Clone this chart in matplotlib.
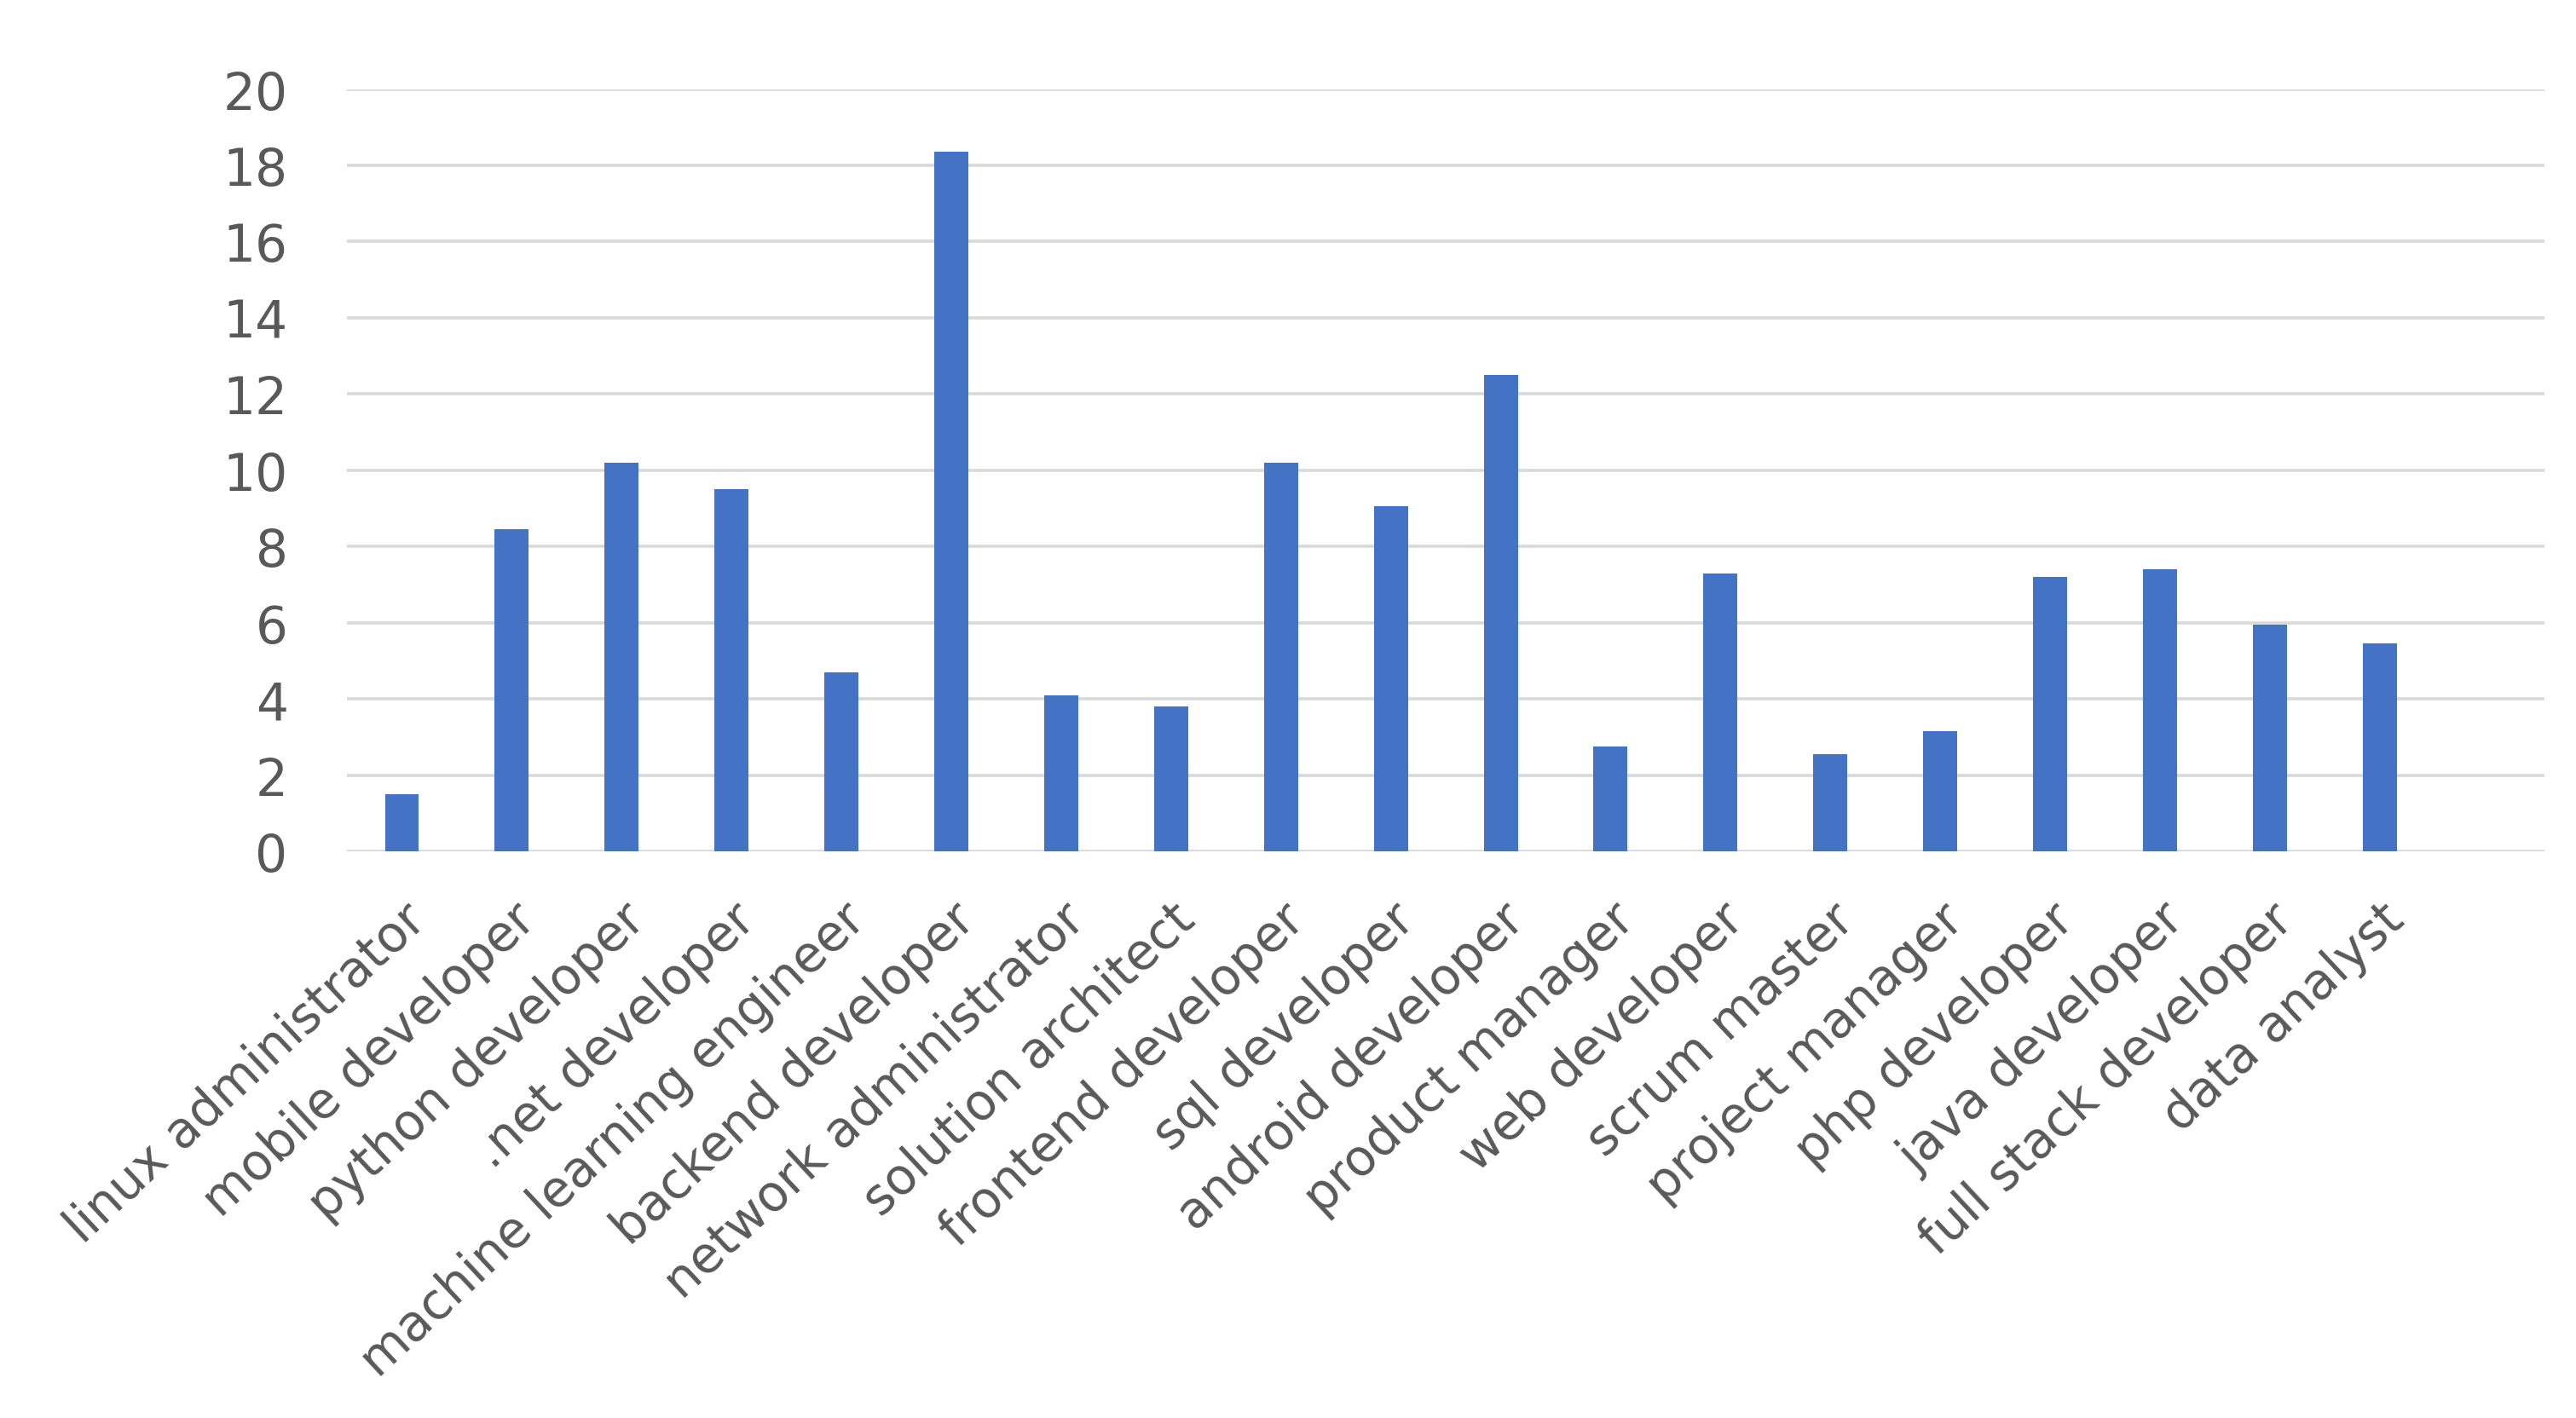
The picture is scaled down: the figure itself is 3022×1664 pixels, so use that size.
import matplotlib
matplotlib.use("Agg")
import matplotlib.pyplot as plt

roles = ["linux administrator", "mobile developer", "python developer",
         ".net developer", "machine learning engineer", "backend developer",
         "network administrator", "solution architect", "frontend developer",
         "sql developer", "android developer", "product manager",
         "web developer", "scrum master", "project manager", "php developer",
         "java developer", "full stack developer", "data analyst"]
values = [1.5, 8.45, 10.2, 9.5, 4.7, 18.35, 4.1, 3.8, 10.2, 9.05, 12.5,
          2.75, 7.3, 2.55, 3.15, 7.2, 7.4, 5.95, 5.45]
yticks = [0, 2, 4, 6, 8, 10, 12, 14, 16, 18, 20]

plt.rcParams['font.family'] = ['DejaVu Sans']
fig = plt.figure(figsize=(30.22, 16.65), dpi=100)
ax = fig.add_axes([0.1347, 0.3994, 0.8531, 0.5372])

x = list(range(len(roles)))
ax.bar(x, values, width=0.31, color="#4472C4", zorder=3)

ax.set_xlim(-0.5, 19.5)
ax.set_ylim(0, 20)
ax.set_yticks(yticks)
ax.set_yticklabels([str(t) for t in yticks])
ax.grid(axis="y", color="#d9d9d9", linewidth=2.6, zorder=0)
ax.set_axisbelow(True)
for s in ax.spines.values():
    s.set_visible(False)

ax.set_xticks(x)
ax.set_xticklabels(roles, rotation=43, ha="right", va="top", rotation_mode="anchor")
ax.tick_params(axis="x", length=0, pad=36, labelsize=42, labelcolor="#595959")
ax.tick_params(axis="y", length=0, pad=50, labelsize=43, labelcolor="#595959")

fig.savefig("out.png", dpi=100, facecolor="white")
